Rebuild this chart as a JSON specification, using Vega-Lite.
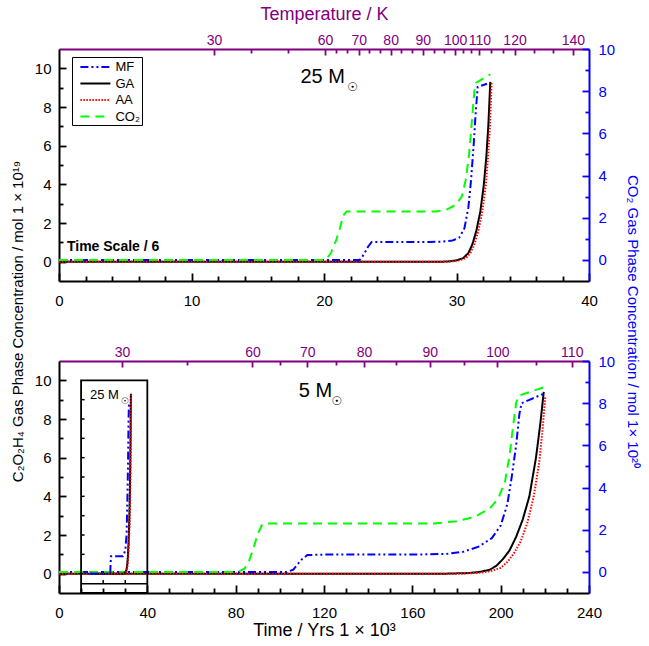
{
  "$schema": "https://vega.github.io/schema/vega-lite/v6.json",
  "padding": {"left": 10, "top": 5, "right": 5, "bottom": 5},
  "bounds": "flush",
  "spacing": 80,
  "config": {
    "font": "Liberation Sans",
    "view": {"stroke": null},
    "axis": {"grid": false, "domainWidth": 2, "domainColor": "black", "tickColor": "black", "tickWidth": 1.8, "labelFontSize": 15, "titleFontSize": 15, "titleFontWeight": "normal", "labelFont": "Liberation Sans", "titleFont": "Liberation Sans", "labelFlush": false, "labelOverlap": false, "labelColor": "black", "titleColor": "black"},
    "legend": {"labelFont": "Liberation Sans"}
  },
  "datasets": {
    "top": [
      {"t": 0, "v": 0, "s": "GA"}, {"t": 29, "v": 0, "s": "GA"}, {"t": 29.5, "v": 0.02, "s": "GA"}, {"t": 30, "v": 0.07, "s": "GA"}, {"t": 30.5, "v": 0.18, "s": "GA"}, {"t": 30.9, "v": 0.45, "s": "GA"}, {"t": 31.2, "v": 0.9, "s": "GA"}, {"t": 31.5, "v": 1.6, "s": "GA"}, {"t": 31.8, "v": 2.6, "s": "GA"}, {"t": 32.05, "v": 3.9, "s": "GA"}, {"t": 32.25, "v": 5.4, "s": "GA"}, {"t": 32.4, "v": 7.0, "s": "GA"}, {"t": 32.55, "v": 9.3, "s": "GA"},
      {"t": 0, "v": 0, "s": "AA"}, {"t": 29.2, "v": 0, "s": "AA"}, {"t": 29.7, "v": 0.02, "s": "AA"}, {"t": 30.2, "v": 0.07, "s": "AA"}, {"t": 30.7, "v": 0.18, "s": "AA"}, {"t": 31.05, "v": 0.45, "s": "AA"}, {"t": 31.35, "v": 0.9, "s": "AA"}, {"t": 31.65, "v": 1.6, "s": "AA"}, {"t": 31.95, "v": 2.6, "s": "AA"}, {"t": 32.2, "v": 3.9, "s": "AA"}, {"t": 32.38, "v": 5.4, "s": "AA"}, {"t": 32.52, "v": 7.0, "s": "AA"}, {"t": 32.65, "v": 9.25, "s": "AA"},
      {"t": 0, "v": 0, "s": "MF"}, {"t": 22.7, "v": 0, "s": "MF"}, {"t": 23.0, "v": 0.25, "s": "MF"}, {"t": 23.3, "v": 0.6, "s": "MF"}, {"t": 23.6, "v": 0.85, "s": "MF"}, {"t": 28, "v": 0.85, "s": "MF"}, {"t": 29, "v": 0.87, "s": "MF"}, {"t": 29.7, "v": 0.92, "s": "MF"}, {"t": 30.2, "v": 1.05, "s": "MF"}, {"t": 30.6, "v": 1.5, "s": "MF"}, {"t": 30.9, "v": 2.5, "s": "MF"}, {"t": 31.1, "v": 3.8, "s": "MF"}, {"t": 31.3, "v": 5.5, "s": "MF"}, {"t": 31.45, "v": 7.0, "s": "MF"}, {"t": 31.6, "v": 8.2, "s": "MF"}, {"t": 32.3, "v": 8.35, "s": "MF"},
      {"t": 0, "v": 0, "s": "CO₂"}, {"t": 20.1, "v": 0, "s": "CO₂"}, {"t": 20.5, "v": 0.3, "s": "CO₂"}, {"t": 20.9, "v": 0.9, "s": "CO₂"}, {"t": 21.2, "v": 1.5, "s": "CO₂"}, {"t": 21.45, "v": 2.1, "s": "CO₂"}, {"t": 21.7, "v": 2.3, "s": "CO₂"}, {"t": 28.5, "v": 2.3, "s": "CO₂"}, {"t": 29.3, "v": 2.4, "s": "CO₂"}, {"t": 29.9, "v": 2.6, "s": "CO₂"}, {"t": 30.4, "v": 3.0, "s": "CO₂"}, {"t": 30.7, "v": 3.8, "s": "CO₂"}, {"t": 30.95, "v": 5.0, "s": "CO₂"}, {"t": 31.15, "v": 6.5, "s": "CO₂"}, {"t": 31.35, "v": 8.0, "s": "CO₂"}, {"t": 31.5, "v": 8.4, "s": "CO₂"}, {"t": 32.55, "v": 8.8, "s": "CO₂"}
    ],
    "bot": [
      {"t": 0, "v": 0, "s": "GA"}, {"t": 175, "v": 0, "s": "GA"}, {"t": 185, "v": 0.03, "s": "GA"}, {"t": 190, "v": 0.08, "s": "GA"}, {"t": 195, "v": 0.2, "s": "GA"}, {"t": 198, "v": 0.4, "s": "GA"}, {"t": 201, "v": 0.75, "s": "GA"}, {"t": 204, "v": 1.2, "s": "GA"}, {"t": 207, "v": 1.9, "s": "GA"}, {"t": 210, "v": 2.8, "s": "GA"}, {"t": 213, "v": 4.0, "s": "GA"}, {"t": 216, "v": 6.0, "s": "GA"}, {"t": 218, "v": 7.8, "s": "GA"}, {"t": 219.5, "v": 9.4, "s": "GA"},
      {"t": 0, "v": 0, "s": "AA"}, {"t": 180, "v": 0, "s": "AA"}, {"t": 190, "v": 0.04, "s": "AA"}, {"t": 195, "v": 0.12, "s": "AA"}, {"t": 200, "v": 0.3, "s": "AA"}, {"t": 203, "v": 0.6, "s": "AA"}, {"t": 206, "v": 1.05, "s": "AA"}, {"t": 209, "v": 1.65, "s": "AA"}, {"t": 212, "v": 2.6, "s": "AA"}, {"t": 215, "v": 4.0, "s": "AA"}, {"t": 217.5, "v": 5.8, "s": "AA"}, {"t": 219, "v": 7.5, "s": "AA"}, {"t": 220.2, "v": 9.2, "s": "AA"},
      {"t": 0, "v": 0, "s": "MF"}, {"t": 103, "v": 0, "s": "MF"}, {"t": 106, "v": 0.1, "s": "MF"}, {"t": 108, "v": 0.35, "s": "MF"}, {"t": 110, "v": 0.6, "s": "MF"}, {"t": 112.5, "v": 0.8, "s": "MF"}, {"t": 120, "v": 0.82, "s": "MF"}, {"t": 160, "v": 0.82, "s": "MF"}, {"t": 175, "v": 0.85, "s": "MF"}, {"t": 183, "v": 0.95, "s": "MF"}, {"t": 190, "v": 1.2, "s": "MF"}, {"t": 196, "v": 1.6, "s": "MF"}, {"t": 200, "v": 2.2, "s": "MF"}, {"t": 203, "v": 3.2, "s": "MF"}, {"t": 205, "v": 4.5, "s": "MF"}, {"t": 207, "v": 6.0, "s": "MF"}, {"t": 208.5, "v": 7.5, "s": "MF"}, {"t": 209.5, "v": 8.0, "s": "MF"}, {"t": 219.5, "v": 8.45, "s": "MF"},
      {"t": 0, "v": 0, "s": "CO₂"}, {"t": 81, "v": 0, "s": "CO₂"}, {"t": 84, "v": 0.15, "s": "CO₂"}, {"t": 86, "v": 0.5, "s": "CO₂"}, {"t": 88, "v": 1.1, "s": "CO₂"}, {"t": 90, "v": 1.8, "s": "CO₂"}, {"t": 92, "v": 2.25, "s": "CO₂"}, {"t": 95, "v": 2.3, "s": "CO₂"}, {"t": 170, "v": 2.3, "s": "CO₂"}, {"t": 180, "v": 2.4, "s": "CO₂"}, {"t": 188, "v": 2.6, "s": "CO₂"}, {"t": 195, "v": 3.0, "s": "CO₂"}, {"t": 199, "v": 3.5, "s": "CO₂"}, {"t": 202, "v": 4.3, "s": "CO₂"}, {"t": 204, "v": 5.5, "s": "CO₂"}, {"t": 205.5, "v": 6.8, "s": "CO₂"}, {"t": 207, "v": 8.0, "s": "CO₂"}, {"t": 208, "v": 8.35, "s": "CO₂"}, {"t": 219.5, "v": 8.75, "s": "CO₂"}
    ],
    "inset": [
      {"t": 14, "v": 0, "s": "GA"}, {"t": 29, "v": 0, "s": "GA"}, {"t": 29.5, "v": 0.02, "s": "GA"}, {"t": 30, "v": 0.07, "s": "GA"}, {"t": 30.5, "v": 0.18, "s": "GA"}, {"t": 30.9, "v": 0.45, "s": "GA"}, {"t": 31.2, "v": 0.9, "s": "GA"}, {"t": 31.5, "v": 1.6, "s": "GA"}, {"t": 31.8, "v": 2.6, "s": "GA"}, {"t": 32.05, "v": 3.9, "s": "GA"}, {"t": 32.25, "v": 5.4, "s": "GA"}, {"t": 32.4, "v": 7.0, "s": "GA"}, {"t": 32.55, "v": 9.3, "s": "GA"},
      {"t": 14, "v": 0, "s": "AA"}, {"t": 29.2, "v": 0, "s": "AA"}, {"t": 29.7, "v": 0.02, "s": "AA"}, {"t": 30.2, "v": 0.07, "s": "AA"}, {"t": 30.7, "v": 0.18, "s": "AA"}, {"t": 31.05, "v": 0.45, "s": "AA"}, {"t": 31.35, "v": 0.9, "s": "AA"}, {"t": 31.65, "v": 1.6, "s": "AA"}, {"t": 31.95, "v": 2.6, "s": "AA"}, {"t": 32.2, "v": 3.9, "s": "AA"}, {"t": 32.38, "v": 5.4, "s": "AA"}, {"t": 32.52, "v": 7.0, "s": "AA"}, {"t": 32.65, "v": 9.25, "s": "AA"},
      {"t": 14, "v": 0, "s": "MF"}, {"t": 23.2, "v": 0, "s": "MF"}, {"t": 23.5, "v": 0.9, "s": "MF"}, {"t": 29, "v": 0.9, "s": "MF"}, {"t": 30, "v": 1.2, "s": "MF"}, {"t": 30.6, "v": 2.0, "s": "MF"}, {"t": 31, "v": 4.0, "s": "MF"}, {"t": 31.3, "v": 6.0, "s": "MF"}, {"t": 31.5, "v": 8.0, "s": "MF"}, {"t": 31.7, "v": 8.9, "s": "MF"}
    ]
  },
  "resolve": {"legend": {"color": "independent", "strokeDash": "independent"}},
  "vconcat": [
    {
      "width": 530,
      "height": 232,
      "resolve": {"scale": {"y": "independent"}, "axis": {"x": "independent", "y": "independent"}},
      "layer": [
        {
          "data": {"name": "top"},
          "mark": {"type": "point", "opacity": 0},
          "encoding": {
            "x": {"field": "t", "type": "quantitative", "scale": {"domain": [0, 40], "nice": false, "zero": false},
              "axis": {"orient": "bottom", "values": [2,4,6,8,12,14,16,18,22,24,26,28,32,34,36,38], "labels": false, "domain": false, "tickSize": 5, "offset": -5, "title": null}},
            "y": {"field": "v", "type": "quantitative", "scale": {"domain": [-1, 11], "nice": false, "zero": false},
              "axis": {"orient": "left", "values": [1,3,5,7,9], "labels": false, "domain": false, "tickSize": 4, "offset": -4, "title": null}}
          }
        },
        {
          "data": {"name": "top"},
          "mark": {"type": "point", "opacity": 0},
          "encoding": {
            "x": {"field": "t", "type": "quantitative", "scale": {"domain": [0, 40], "nice": false, "zero": false},
              "axis": {"orient": "top", "values": [14.49,17.29,20.93,21.77,23.42,24.23,25.83,26.64,28.27,29.08,30.51,31.11,32.61,33.49,35.85,37.32], "labels": false, "domain": false, "tickSize": 4, "offset": -4, "tickColor": "#800080", "title": null}},
            "y": {"field": "v", "type": "quantitative", "scale": {"domain": [-1, 10], "nice": false, "zero": false},
              "axis": {"orient": "right", "values": [1,3,5,7,9], "labels": false, "domain": false, "tickSize": 4, "offset": -4, "tickColor": "#0000ff", "title": null}}
          }
        },
        {
          "data": {"name": "top"},
          "mark": {"type": "point", "opacity": 0},
          "encoding": {
            "x": {"field": "t", "type": "quantitative", "scale": {"domain": [0, 40], "nice": false, "zero": false},
              "axis": {"orient": "bottom", "values": [0,10,20,30,40], "labels": false, "domain": false, "tickSize": 8, "offset": -8, "title": null}},
            "y": {"field": "v", "type": "quantitative", "scale": {"domain": [-1, 11], "nice": false, "zero": false},
              "axis": {"orient": "left", "values": [0,2,4,6,8,10], "labels": false, "domain": false, "tickSize": 7, "offset": -7, "title": null}}
          }
        },
        {
          "data": {"name": "top"},
          "mark": {"type": "point", "opacity": 0},
          "encoding": {
            "x": {"field": "t", "type": "quantitative", "scale": {"domain": [0, 40], "nice": false, "zero": false},
              "axis": {"orient": "top", "values": [11.7,20.08,22.62,25.03,27.45,29.9,31.72,34.38,38.78], "labels": false, "domain": false, "tickSize": 6, "offset": -6, "tickColor": "#800080", "title": null}},
            "y": {"field": "v", "type": "quantitative", "scale": {"domain": [-1, 10], "nice": false, "zero": false},
              "axis": {"orient": "right", "values": [0,2,4,6,8,10], "labels": false, "domain": false, "tickSize": 7, "offset": -7, "tickColor": "#0000ff", "title": null}}
          }
        },
        {
          "data": {"name": "top"},
          "transform": [{"filter": "datum.s == 'GA' || datum.s == 'AA'"}],
          "mark": {"type": "line", "strokeWidth": 2},
          "encoding": {
            "x": {"field": "t", "type": "quantitative", "scale": {"domain": [0, 40], "nice": false, "zero": false},
              "axis": {"orient": "bottom", "title": null, "values": [0,10,20,30,40], "tickSize": 0, "tickOpacity": 0, "labelPadding": 12}},
            "y": {"field": "v", "type": "quantitative", "scale": {"domain": [-1, 11], "nice": false, "zero": false},
              "axis": {"orient": "left", "values": [0,2,4,6,8,10], "tickSize": 0, "tickOpacity": 0, "labelPadding": 8,
                "title": "C₂O₂H₄ Gas Phase Concentration / mol 1 × 10¹⁹",
                "titleX": -42, "titleY": 272, "titleAngle": -90, "titleBaseline": "middle", "titleAlign": "center"}},
            "color": {"field": "s", "type": "nominal",
              "scale": {"domain": ["MF", "GA", "AA", "CO₂"], "range": ["#0000ff", "#000000", "#ff0000", "#00ff00"]},
              "legend": {"orient": "none", "legendX": 13, "legendY": 8, "title": null, "symbolType": "M-2,0H2", "symbolSize": 225, "symbolStrokeWidth": 2, "symbolOffset": 13.4, "labelOffset": 11.5, "labelFontSize": 13, "padding": 1.5, "strokeColor": "black", "rowPadding": 0.5}},
            "strokeDash": {"field": "s", "type": "nominal",
              "scale": {"domain": ["MF", "GA", "AA", "CO₂"], "range": [[8, 3, 2, 3, 2, 3], [1, 0], [1.5, 1.5], [9, 6]]},
              "legend": {"orient": "none", "legendX": 13, "legendY": 8, "title": null, "symbolType": "M-2,0H2", "symbolSize": 225, "symbolStrokeWidth": 2, "symbolOffset": 13.4, "labelOffset": 11.5, "labelFontSize": 13, "padding": 1.5, "strokeColor": "black", "rowPadding": 0.5}}
          }
        },
        {
          "data": {"name": "top"},
          "transform": [{"filter": "datum.s == 'MF' || datum.s == 'CO₂'"}],
          "mark": {"type": "line", "strokeWidth": 2},
          "encoding": {
            "x": {"field": "t", "type": "quantitative", "scale": {"domain": [0, 40], "nice": false, "zero": false},
              "axis": {"orient": "top", "values": [11.7,20.08,22.62,25.03,27.45,29.9,31.72,34.38,38.78],
                "labelExpr": "datum.value == 11.7 ? '30' : datum.value == 20.08 ? '60' : datum.value == 22.62 ? '70' : datum.value == 25.03 ? '80' : datum.value == 27.45 ? '90' : datum.value == 29.9 ? '100' : datum.value == 31.72 ? '110' : datum.value == 34.38 ? '120' : datum.value == 38.78 ? '140' : ''",
                "tickSize": 0, "tickOpacity": 0, "labelPadding": 2, "labelFontSize": 14,
                "domainColor": "#800080", "labelColor": "#800080", "titleColor": "#800080",
                "title": "Temperature / K", "titleFontSize": 18, "titleY": -35, "titleBaseline": "middle"}},
            "y": {"field": "v", "type": "quantitative", "scale": {"domain": [-1, 10], "nice": false, "zero": false},
              "axis": {"orient": "right", "values": [0,2,4,6,8,10], "tickSize": 0, "tickOpacity": 0, "labelPadding": 9,
                "domainColor": "#0000ff", "labelColor": "#0000ff", "titleColor": "#0000ff",
                "title": "CO₂ Gas Phase Concentration / mol 1× 10²⁰",
                "titleX": 43, "titleY": 272, "titleAngle": 90, "titleBaseline": "middle", "titleAlign": "center"}},
            "color": {"field": "s", "type": "nominal",
              "scale": {"domain": ["MF", "GA", "AA", "CO₂"], "range": ["#0000ff", "#000000", "#ff0000", "#00ff00"]},
              "legend": {"orient": "none", "legendX": 13, "legendY": 8, "title": null, "symbolType": "M-2,0H2", "symbolSize": 225, "symbolStrokeWidth": 2, "symbolOffset": 13.4, "labelOffset": 11.5, "labelFontSize": 13, "padding": 1.5, "strokeColor": "black", "rowPadding": 0.5}},
            "strokeDash": {"field": "s", "type": "nominal",
              "scale": {"domain": ["MF", "GA", "AA", "CO₂"], "range": [[8, 3, 2, 3, 2, 3], [1, 0], [1.5, 1.5], [9, 6]]},
              "legend": {"orient": "none", "legendX": 13, "legendY": 8, "title": null, "symbolType": "M-2,0H2", "symbolSize": 225, "symbolStrokeWidth": 2, "symbolOffset": 13.4, "labelOffset": 11.5, "labelFontSize": 13, "padding": 1.5, "strokeColor": "black", "rowPadding": 0.5}}
          }
        },
        {
          "data": {"values": [{"t": 18.22, "v": 9.57, "label": "25 M"}]},
          "mark": {"type": "text", "align": "left", "baseline": "middle", "fontSize": 20},
          "encoding": {
            "x": {"field": "t", "type": "quantitative", "scale": {"domain": [0, 40], "nice": false, "zero": false}, "axis": null},
            "y": {"field": "v", "type": "quantitative", "scale": {"domain": [-1, 11], "nice": false, "zero": false}, "axis": null},
            "text": {"field": "label"}
          }
        },
        {
          "data": {"values": [{"t": 22.16, "v": 9.05, "label": "☉"}]},
          "mark": {"type": "text", "align": "center", "baseline": "middle", "fontSize": 12, "font": "DejaVu Sans"},
          "encoding": {
            "x": {"field": "t", "type": "quantitative", "scale": {"domain": [0, 40], "nice": false, "zero": false}, "axis": null},
            "y": {"field": "v", "type": "quantitative", "scale": {"domain": [-1, 11], "nice": false, "zero": false}, "axis": null},
            "text": {"field": "label"}
          }
        },
        {
          "data": {"values": [{"t": 0.6, "v": 0.77, "label": "Time Scale / 6"}]},
          "mark": {"type": "text", "align": "left", "baseline": "middle", "fontSize": 14, "fontWeight": "bold"},
          "encoding": {
            "x": {"field": "t", "type": "quantitative", "scale": {"domain": [0, 40], "nice": false, "zero": false}, "axis": null},
            "y": {"field": "v", "type": "quantitative", "scale": {"domain": [-1, 11], "nice": false, "zero": false}, "axis": null},
            "text": {"field": "label"}
          }
        }
      ]
    },
    {
      "width": 530,
      "height": 232,
      "resolve": {"scale": {"y": "independent"}, "axis": {"x": "independent", "y": "independent"}},
      "layer": [
        {
          "data": {"name": "bot"},
          "mark": {"type": "point", "opacity": 0},
          "encoding": {
            "x": {"field": "t", "type": "quantitative", "scale": {"domain": [0, 240], "nice": false, "zero": false},
              "axis": {"orient": "bottom", "values": [10,20,30,50,60,70,90,100,110,130,140,150,170,180,190,210,220,230], "labels": false, "domain": false, "tickSize": 5, "offset": -5, "title": null}},
            "y": {"field": "v", "type": "quantitative", "scale": {"domain": [-1, 11], "nice": false, "zero": false},
              "axis": {"orient": "left", "values": [1,3,5,7,9], "labels": false, "domain": false, "tickSize": 4, "offset": -4, "title": null}}
          }
        },
        {
          "data": {"name": "bot"},
          "mark": {"type": "point", "opacity": 0},
          "encoding": {
            "x": {"field": "t", "type": "quantitative", "scale": {"domain": [0, 240], "nice": false, "zero": false},
              "axis": {"orient": "top", "values": [58,99.9,125.4,152.4,183.2,215.8], "labels": false, "domain": false, "tickSize": 4, "offset": -4, "tickColor": "#800080", "title": null}},
            "y": {"field": "v", "type": "quantitative", "scale": {"domain": [-1, 10], "nice": false, "zero": false},
              "axis": {"orient": "right", "values": [1,3,5,7,9], "labels": false, "domain": false, "tickSize": 4, "offset": -4, "tickColor": "#0000ff", "title": null}}
          }
        },
        {
          "data": {"name": "bot"},
          "mark": {"type": "point", "opacity": 0},
          "encoding": {
            "x": {"field": "t", "type": "quantitative", "scale": {"domain": [0, 240], "nice": false, "zero": false},
              "axis": {"orient": "bottom", "values": [0,40,80,120,160,200,240], "labels": false, "domain": false, "tickSize": 8, "offset": -8, "title": null}},
            "y": {"field": "v", "type": "quantitative", "scale": {"domain": [-1, 11], "nice": false, "zero": false},
              "axis": {"orient": "left", "values": [0,2,4,6,8,10], "labels": false, "domain": false, "tickSize": 7, "offset": -7, "title": null}}
          }
        },
        {
          "data": {"name": "bot"},
          "mark": {"type": "point", "opacity": 0},
          "encoding": {
            "x": {"field": "t", "type": "quantitative", "scale": {"domain": [0, 240], "nice": false, "zero": false},
              "axis": {"orient": "top", "values": [28.5,87.6,112.4,138.1,167.9,198.5,232.2], "labels": false, "domain": false, "tickSize": 6, "offset": -6, "tickColor": "#800080", "title": null}},
            "y": {"field": "v", "type": "quantitative", "scale": {"domain": [-1, 10], "nice": false, "zero": false},
              "axis": {"orient": "right", "values": [0,2,4,6,8,10], "labels": false, "domain": false, "tickSize": 7, "offset": -7, "tickColor": "#0000ff", "title": null}}
          }
        },
        {
          "data": {"name": "bot"},
          "transform": [{"filter": "datum.s == 'GA' || datum.s == 'AA'"}],
          "mark": {"type": "line", "strokeWidth": 2},
          "encoding": {
            "x": {"field": "t", "type": "quantitative", "scale": {"domain": [0, 240], "nice": false, "zero": false},
              "axis": {"orient": "bottom", "values": [0,40,80,120,160,200,240], "tickSize": 0, "tickOpacity": 0, "labelPadding": 12,
                "title": "Time / Yrs 1 × 10³", "titleFontSize": 18, "titleY": 37, "titleBaseline": "middle"}},
            "y": {"field": "v", "type": "quantitative", "scale": {"domain": [-1, 11], "nice": false, "zero": false},
              "axis": {"orient": "left", "values": [0,2,4,6,8,10], "tickSize": 0, "tickOpacity": 0, "labelPadding": 8, "title": null}},
            "color": {"field": "s", "type": "nominal",
              "scale": {"domain": ["MF", "GA", "AA", "CO₂"], "range": ["#0000ff", "#000000", "#ff0000", "#00ff00"]}, "legend": null},
            "strokeDash": {"field": "s", "type": "nominal",
              "scale": {"domain": ["MF", "GA", "AA", "CO₂"], "range": [[8, 3, 2, 3, 2, 3], [1, 0], [1.5, 1.5], [9, 6]]}, "legend": null}
          }
        },
        {
          "data": {"name": "bot"},
          "transform": [{"filter": "datum.s == 'MF' || datum.s == 'CO₂'"}],
          "mark": {"type": "line", "strokeWidth": 2},
          "encoding": {
            "x": {"field": "t", "type": "quantitative", "scale": {"domain": [0, 240], "nice": false, "zero": false},
              "axis": {"orient": "top", "values": [28.5,87.6,112.4,138.1,167.9,198.5,232.2],
                "labelExpr": "datum.value == 28.5 ? '30' : datum.value == 87.6 ? '60' : datum.value == 112.4 ? '70' : datum.value == 138.1 ? '80' : datum.value == 167.9 ? '90' : datum.value == 198.5 ? '100' : datum.value == 232.2 ? '110' : ''",
                "tickSize": 0, "tickOpacity": 0, "labelPadding": 2, "labelFontSize": 14, "title": null,
                "domainColor": "#800080", "labelColor": "#800080"}},
            "y": {"field": "v", "type": "quantitative", "scale": {"domain": [-1, 10], "nice": false, "zero": false},
              "axis": {"orient": "right", "values": [0,2,4,6,8,10], "tickSize": 0, "tickOpacity": 0, "labelPadding": 9, "title": null,
                "domainColor": "#0000ff", "labelColor": "#0000ff"}},
            "color": {"field": "s", "type": "nominal",
              "scale": {"domain": ["MF", "GA", "AA", "CO₂"], "range": ["#0000ff", "#000000", "#ff0000", "#00ff00"]}, "legend": null},
            "strokeDash": {"field": "s", "type": "nominal",
              "scale": {"domain": ["MF", "GA", "AA", "CO₂"], "range": [[8, 3, 2, 3, 2, 3], [1, 0], [1.5, 1.5], [9, 6]]}, "legend": null}
          }
        },
        {
          "data": {"name": "inset"},
          "mark": {"type": "line", "strokeWidth": 2},
          "encoding": {
            "x": {"field": "t", "type": "quantitative", "scale": {"domain": [0, 240], "nice": false, "zero": false}, "axis": null},
            "y": {"field": "v", "type": "quantitative", "scale": {"domain": [-1, 11], "nice": false, "zero": false}, "axis": null},
            "color": {"field": "s", "type": "nominal",
              "scale": {"domain": ["MF", "GA", "AA", "CO₂"], "range": ["#0000ff", "#000000", "#ff0000", "#00ff00"]}, "legend": null},
            "strokeDash": {"field": "s", "type": "nominal",
              "scale": {"domain": ["MF", "GA", "AA", "CO₂"], "range": [[2, 3], [1, 0], [1.5, 1.5], [9, 6]]}, "legend": null}
          }
        },
        {
          "data": {"values": [{"t": 10, "t2": 40, "v": -1, "v2": 10}]},
          "mark": {"type": "rect", "filled": false, "stroke": "black", "strokeWidth": 1.8},
          "encoding": {
            "x": {"field": "t", "type": "quantitative", "scale": {"domain": [0, 240], "nice": false, "zero": false}, "axis": null},
            "x2": {"field": "t2"},
            "y": {"field": "v", "type": "quantitative", "scale": {"domain": [-1, 11], "nice": false, "zero": false}, "axis": null},
            "y2": {"field": "v2"}
          }
        },
        {
          "data": {"values": [
            {"t": 10, "t2": 40, "v": -0.52, "v2": -0.52},
            {"t": 20, "t2": 20, "v": -0.52, "v2": -0.33},
            {"t": 30, "t2": 30, "v": -0.52, "v2": -0.33},
            {"t": 10, "t2": 11.6, "v": 1, "v2": 1}, {"t": 10, "t2": 11.6, "v": 2, "v2": 2}, {"t": 10, "t2": 11.6, "v": 3, "v2": 3},
            {"t": 10, "t2": 11.6, "v": 4, "v2": 4}, {"t": 10, "t2": 11.6, "v": 5, "v2": 5}, {"t": 10, "t2": 11.6, "v": 6, "v2": 6},
            {"t": 10, "t2": 11.6, "v": 7, "v2": 7}, {"t": 10, "t2": 11.6, "v": 8, "v2": 8}, {"t": 10, "t2": 11.6, "v": 9, "v2": 9}
          ]},
          "mark": {"type": "rule", "stroke": "black", "strokeWidth": 1.5},
          "encoding": {
            "x": {"field": "t", "type": "quantitative", "scale": {"domain": [0, 240], "nice": false, "zero": false}, "axis": null},
            "x2": {"field": "t2"},
            "y": {"field": "v", "type": "quantitative", "scale": {"domain": [-1, 11], "nice": false, "zero": false}, "axis": null},
            "y2": {"field": "v2"}
          }
        },
        {
          "data": {"values": [{"t": 108.6, "v": 9.43, "label": "5 M"}]},
          "mark": {"type": "text", "align": "left", "baseline": "middle", "fontSize": 20},
          "encoding": {
            "x": {"field": "t", "type": "quantitative", "scale": {"domain": [0, 240], "nice": false, "zero": false}, "axis": null},
            "y": {"field": "v", "type": "quantitative", "scale": {"domain": [-1, 11], "nice": false, "zero": false}, "axis": null},
            "text": {"field": "label"}
          }
        },
        {
          "data": {"values": [{"t": 125.8, "v": 8.95, "label": "☉"}]},
          "mark": {"type": "text", "align": "center", "baseline": "middle", "fontSize": 12, "font": "DejaVu Sans"},
          "encoding": {
            "x": {"field": "t", "type": "quantitative", "scale": {"domain": [0, 240], "nice": false, "zero": false}, "axis": null},
            "y": {"field": "v", "type": "quantitative", "scale": {"domain": [-1, 11], "nice": false, "zero": false}, "axis": null},
            "text": {"field": "label"}
          }
        },
        {
          "data": {"values": [{"t": 14.0, "v": 9.26, "label": "25 M"}]},
          "mark": {"type": "text", "align": "left", "baseline": "middle", "fontSize": 13},
          "encoding": {
            "x": {"field": "t", "type": "quantitative", "scale": {"domain": [0, 240], "nice": false, "zero": false}, "axis": null},
            "y": {"field": "v", "type": "quantitative", "scale": {"domain": [-1, 11], "nice": false, "zero": false}, "axis": null},
            "text": {"field": "label"}
          }
        },
        {
          "data": {"values": [{"t": 29.9, "v": 8.91, "label": "☉"}]},
          "mark": {"type": "text", "align": "center", "baseline": "middle", "fontSize": 9, "font": "DejaVu Sans"},
          "encoding": {
            "x": {"field": "t", "type": "quantitative", "scale": {"domain": [0, 240], "nice": false, "zero": false}, "axis": null},
            "y": {"field": "v", "type": "quantitative", "scale": {"domain": [-1, 11], "nice": false, "zero": false}, "axis": null},
            "text": {"field": "label"}
          }
        }
      ]
    }
  ]
}
